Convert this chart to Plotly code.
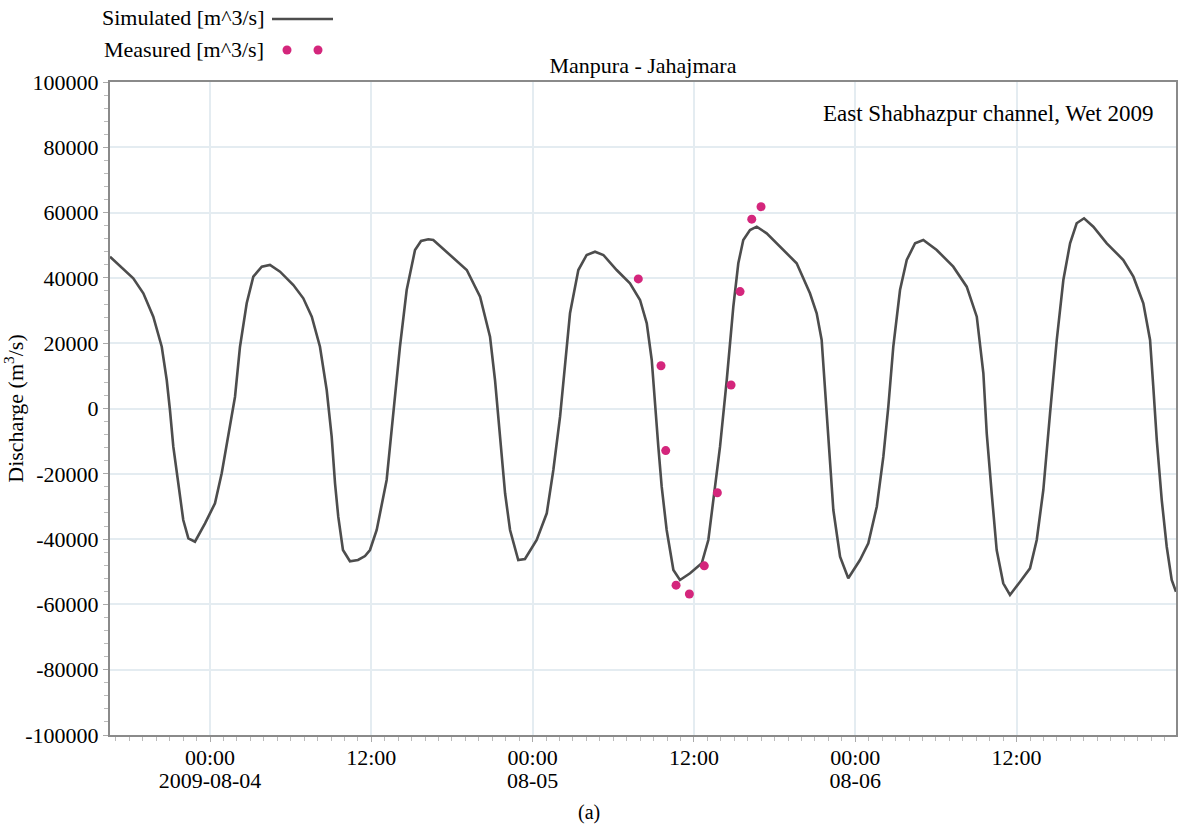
import pandas as pd
import plotly.graph_objects as go

# ---------------- data ----------------
base_time = "2009-08-04 00:00"

# Simulated discharge: hours relative to 2009-08-04 00:00, values in m^3/s
sim_hours = [
    -7.44, -5.71, -4.96, -4.22, -3.59, -3.22, -2.98, -2.73, -2.36, -1.99, -1.61, -1.12,
    -0.37, 0.37, 0.87, 1.36, 1.86, 2.23, 2.73, 3.22, 3.85, 4.46, 5.21, 6.20, 6.94,
    7.57, 8.18, 8.68, 9.05, 9.30, 9.54, 9.89, 10.41, 11.01, 11.53, 11.90, 12.40,
    13.14, 13.64, 14.13, 14.63, 15.25, 15.70, 16.24, 16.61, 17.85, 19.10, 20.09,
    20.83, 21.20, 21.45, 21.70, 21.95, 22.32, 22.93, 23.43, 24.30, 25.05, 25.54,
    26.04, 26.41, 26.78, 27.40, 28.02, 28.64, 29.26, 30.25, 31.24, 31.99, 32.49,
    32.86, 33.10, 33.35, 33.60, 33.97, 34.47, 34.96, 35.71, 36.58, 37.07, 37.44,
    37.94, 38.44, 38.93, 39.30, 39.67, 40.17, 40.67, 41.41, 42.40, 43.64, 44.63,
    45.13, 45.50, 45.75, 46.00, 46.37, 46.87, 47.48, 48.35, 48.97, 49.60, 50.09,
    50.46, 50.83, 51.33, 51.83, 52.45, 53.06, 54.06, 55.29, 56.29, 57.04, 57.53,
    57.78, 58.15, 58.52, 59.01, 59.51, 60.26, 61.00, 61.50, 61.99, 62.49, 62.99,
    63.48, 63.98, 64.47, 65.02, 65.71, 66.71, 67.94, 68.69, 69.43, 69.93, 70.17,
    70.43, 70.80, 71.17, 71.54, 71.86,
]
sim_values = [
    46500, 39880, 35290, 28120, 18930, 8730, -460, -11700, -22910, -34150, -39760, -40800,
    -35160, -29040, -19850, -8640, 3610, 18930, 32220, 40370, 43430, 43950, 41900, 37830, 33750,
    28120, 18930, 5670, -8640, -22910, -33140, -43340, -46800, -46400, -45180, -43340, -37210,
    -21900, -1470, 18930, 36300, 48550, 51300, 51830, 51610, 47020, 42420, 34240,
    21990, 8730, -2510, -14760, -25970, -37210, -46400, -46100, -40280, -32100, -18840,
    -2510, 13840, 29160, 42420, 47020, 48030, 47020, 42420, 38350, 33230, 26100,
    14860, 550, -11700, -23950, -37210, -49470, -52530, -50480, -47410, -40280, -28030,
    -11700, 8730, 31180, 44480, 51610, 54680, 55690, 53660, 49560, 44480, 35290,
    29160, 20980, 5670, -10660, -31090, -45390, -52010, -46400, -41290, -30080, -14760,
    550, 18930, 36300, 45490, 50600, 51610, 48550, 43430, 37310, 28120, 10780,
    -7600, -25970, -43340, -53540, -57120, -53050, -48950, -40280, -24960, -1470, 20980,
    39360, 50600, 56730, 58260, 55690, 50600, 45490, 40370, 32220, 20980, 6680,
    -9650, -28030, -42330, -52530, -56110,
]

# Measured discharge
meas_hours = [31.86, 33.55, 33.90, 34.67, 35.66, 36.77, 37.74, 38.76, 39.43, 40.30, 40.99]
meas_values = [39700, 13100, -12900, -54100, -56800, -48200, -25800, 7200, 35800, 58000, 61800]

x_range_hours = [-7.44, 71.86]
x_tick_vals = ["2009-08-04 00:00", "2009-08-04 12:00", "2009-08-05 00:00",
               "2009-08-05 12:00", "2009-08-06 00:00", "2009-08-06 12:00"]
x_tick_time_text = ["00:00", "12:00", "00:00", "12:00", "00:00", "12:00"]
x_date_tick_vals = ["2009-08-04 00:00", "2009-08-05 00:00", "2009-08-06 00:00"]
x_date_tick_text = ["2009-08-04", "08-05", "08-06"]
y_tick_vals = [-100000, -80000, -60000, -40000, -20000, 0, 20000, 40000, 60000, 80000, 100000]
y_tick_text = [str(v) for v in y_tick_vals]

sim_name = "Simulated [m^3/s]"
meas_name = "Measured [m^3/s]"
title_text = "Manpura - Jahajmara"
note_text = "East Shabhazpur channel, Wet 2009"
y_title = "Discharge (m<sup>3</sup>/s)"
caption = "(a)"

# ---------------- build ----------------
t0 = pd.Timestamp(base_time)
sim_t = t0 + pd.to_timedelta(sim_hours, unit="h")
meas_t = t0 + pd.to_timedelta(meas_hours, unit="h")
x_range = [t0 + pd.to_timedelta(h, unit="h") for h in x_range_hours]

FONT = "Liberation Serif"
FS = 22
W, H = 1181, 829
PT, PB, PL, PR = 82, 735, 110, 1176   # plot-area edges in px
PH = PB - PT
PW = PR - PL
LINE_COLOR = "#4d4d4d"
DOT_COLOR = "#d4267c"


def px_x(px):
    return (px - PL) / PW


def px_y(py):
    return (PB - py) / PH


fig = go.Figure()
fig.add_trace(go.Scatter(
    x=sim_t, y=sim_values, mode="lines", name=sim_name,
    line=dict(color=LINE_COLOR, width=2.6),
))
fig.add_trace(go.Scatter(
    x=meas_t, y=meas_values, mode="markers", name=meas_name,
    marker=dict(color=DOT_COLOR, size=9),
))
# invisible helper trace so the secondary (date-label) axis is drawn
fig.add_trace(go.Scatter(
    x=[x_range[0]], y=[None], xaxis="x2", mode="markers",
    showlegend=False, hoverinfo="skip", marker=dict(opacity=0),
))

fig.update_layout(
    width=W, height=H,
    paper_bgcolor="white", plot_bgcolor="white",
    margin=dict(l=PL, r=W - PR, t=PT, b=H - PB, autoexpand=False),
    font=dict(family=FONT, size=FS, color="black"),
    title=dict(text=title_text, x=0.5, xref="paper", xanchor="center",
               y=1 - 65 / H, yref="container", yanchor="middle",
               font=dict(family=FONT, size=FS, color="black")),
    showlegend=False,
    xaxis2=dict(
        overlaying="x", matches="x", anchor="y", side="bottom", type="date",
        tickmode="array", tickvals=x_date_tick_vals, ticktext=x_date_tick_text,
        tickfont=dict(family=FONT, size=FS, color="black"),
        showgrid=False, showline=False, zeroline=False, ticks="",
        ticklabelstandoff=30, automargin=False,
    ),
)

# legend (text left, key right, as in the reference)
fig.add_annotation(text=sim_name, xref="paper", yref="paper",
                   x=px_x(266), y=px_y(18), xanchor="right", yanchor="middle",
                   showarrow=False, font=dict(family=FONT, size=FS, color="black"))
fig.add_annotation(text=meas_name, xref="paper", yref="paper",
                   x=px_x(266), y=px_y(49), xanchor="right", yanchor="middle",
                   showarrow=False, font=dict(family=FONT, size=FS, color="black"))
fig.add_shape(type="line", xref="paper", yref="paper",
              x0=px_x(272), x1=px_x(333), y0=px_y(19), y1=px_y(19),
              line=dict(color=LINE_COLOR, width=2.6))
for cx in (287, 318):
    fig.add_shape(type="circle", xref="paper", yref="paper",
                  x0=px_x(cx - 4.5), x1=px_x(cx + 4.5), y0=px_y(50 + 4.5), y1=px_y(50 - 4.5),
                  line=dict(width=0), fillcolor=DOT_COLOR)

fig.add_annotation(text=note_text, xref="paper", yref="paper",
                   x=px_x(1156), y=px_y(113), xanchor="right", yanchor="middle",
                   showarrow=False, font=dict(family=FONT, size=23, color="black"))
fig.add_annotation(text=caption, xref="paper", yref="paper",
                   x=px_x(589), y=px_y(812), xanchor="center", yanchor="middle",
                   showarrow=False, font=dict(family=FONT, size=20, color="black"))

fig.layout.xaxis.update(
    type="date", range=x_range, automargin=False,
    tickmode="array", tickvals=x_tick_vals, ticktext=x_tick_time_text,
    tickfont=dict(family=FONT, size=FS, color="black"),
    showgrid=True, gridcolor="#e4ecf1", gridwidth=1.5,
    showline=True, linecolor="#8a8a8a", linewidth=2, mirror=True,
    ticks="outside", ticklen=5, tickcolor="#aaaaaa", ticklabelstandoff=-3,
    minor=dict(dtick=3600000, ticks="outside", ticklen=4, tickcolor="#bbbbbb", showgrid=False),
    zeroline=False,
)
fig.update_yaxes(
    range=[-100000, 100000], automargin=False,
    tickmode="array", tickvals=y_tick_vals, ticktext=y_tick_text,
    tickfont=dict(family=FONT, size=FS, color="black"),
    title=dict(text=y_title, font=dict(family=FONT, size=FS, color="black"), standoff=6),
    showgrid=True, gridcolor="#e4ecf1", gridwidth=1.5,
    showline=True, linecolor="#8a8a8a", linewidth=2, mirror=True,
    ticks="outside", ticklen=5, tickcolor="#aaaaaa",
    minor=dict(dtick=4000, ticks="outside", ticklen=4, tickcolor="#bbbbbb", showgrid=False),
    zeroline=False,
)

fig.write_html(
    "out.html",
    config={"displayModeBar": False},
    post_script="document.body.style.margin='0';document.body.style.overflow='hidden';",
)
